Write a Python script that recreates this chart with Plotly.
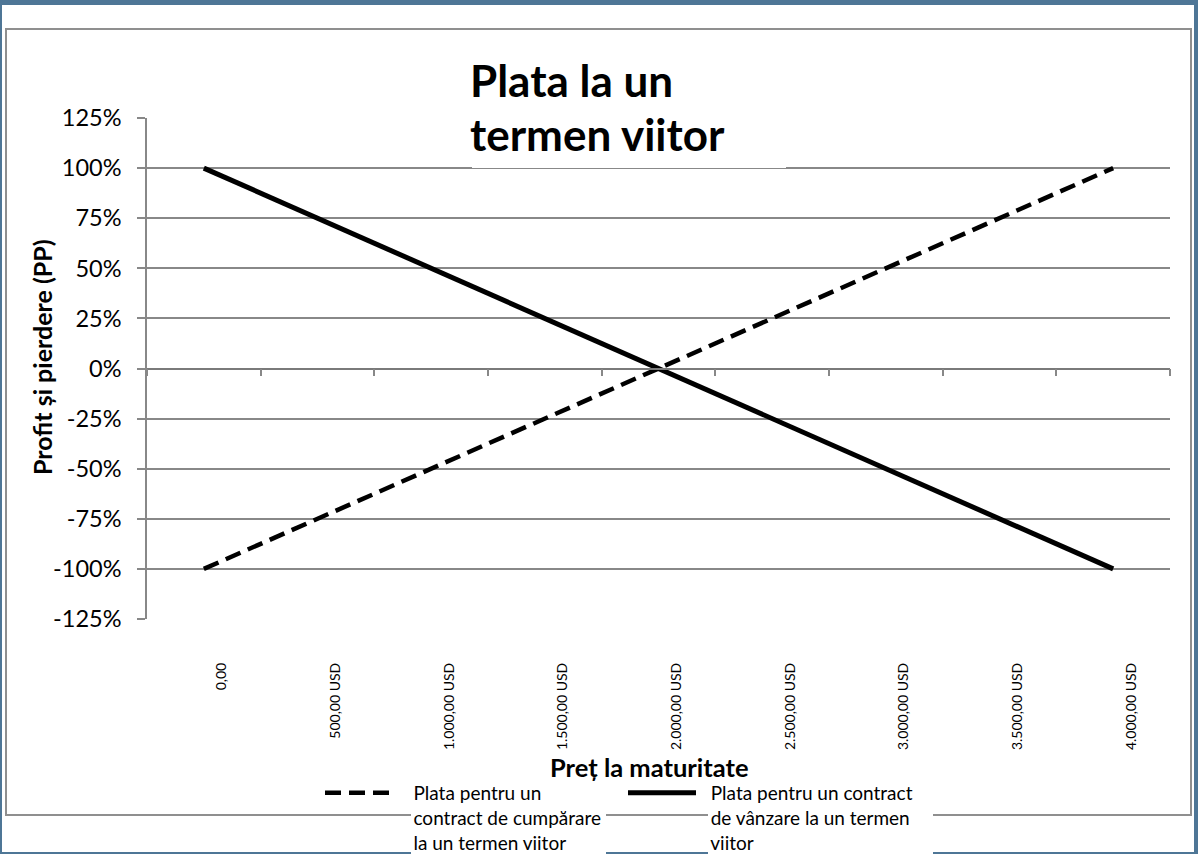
import plotly.graph_objects as go

# ---- data ----
price_labels = ["0,00", "500,00 USD", "1.000,00 USD", "1.500,00 USD", "2.000,00 USD",
                "2.500,00 USD", "3.000,00 USD", "3.500,00 USD", "4.000,00 USD"]
long_payoff = [-1.00, -0.75, -0.50, -0.25, 0.00, 0.25, 0.50, 0.75, 1.00]
short_payoff = [1.00, 0.75, 0.50, 0.25, 0.00, -0.25, -0.50, -0.75, -1.00]
y_tickvals = [-1.25, -1.0, -0.75, -0.5, -0.25, 0.0, 0.25, 0.5, 0.75, 1.0, 1.25]
y_ticktext = ["-125%", "-100%", "-75%", "-50%", "-25%", "0%", "25%", "50%", "75%", "100%", "125%"]

long_lines = ["Plata pentru un", "contract de cumpărare", "la un termen viitor"]
short_lines = ["Plata pentru un contract", "de vânzare la un termen", "viitor"]
title_lines = ["Plata la un", "termen viitor"]
y_title = "Profit și pierdere (PP)"
x_title = "Preț la maturitate"

# ---- layout geometry (pixels) ----
W, H = 1198, 854
L, R, T, B = 147, 1170, 118, 619
PW, PH = R - L, B - T


def X(px):
    return (px - L) / PW


def Y(py):
    return (B - py) / PH


FONT = "Lato, 'Open Sans', sans-serif"
GRID = "#888888"
NB = "\u00a0"

long_name = "<br>".join(NB * 4 + s for s in long_lines)
short_name = "<br>".join(NB * 2 + s for s in short_lines)

fig = go.Figure()
fig.add_trace(go.Scatter(
    x=price_labels, y=long_payoff, mode="lines", name=long_name, legend="legend",
    line=dict(color="black", width=4.5, dash="16px,8px"),
))
fig.add_trace(go.Scatter(
    x=price_labels, y=short_payoff, mode="lines", name=short_name, legend="legend2",
    line=dict(color="black", width=5),
))
# helper trace so the axis on the 0% line is drawn
fig.add_trace(go.Scatter(x=[], y=[], xaxis="x2", showlegend=False, hoverinfo="skip"))

n = len(price_labels)
legend_common = dict(
    orientation="v", xanchor="left", yanchor="top", bgcolor="rgba(0,0,0,0)",
    font=dict(size=19, family=FONT, color="black"), valign="top",
    tracegroupgap=0,
)


def white_box(x0, x1, y0, y1):
    return dict(type="rect", xref="paper", yref="paper", layer="above",
                x0=X(x0), x1=X(x1), y0=Y(y1), y1=Y(y0),
                fillcolor="white", line=dict(width=0))


fig.update_layout(
    width=W, height=H,
    margin=dict(l=L, r=W - R, t=T, b=H - B, pad=0, autoexpand=False),
    paper_bgcolor="#4e7696",
    plot_bgcolor="rgba(0,0,0,0)",
    font=dict(family=FONT, color="black"),
    showlegend=True,
    xaxis=dict(
        type="category", categoryorder="array", categoryarray=price_labels,
        range=[-0.5, n - 0.5], showgrid=False, showline=False, zeroline=False,
        ticks="", tickangle=-90, tickfont=dict(size=14, family=FONT),
        ticklabelstandoff=40, ticklabelshift=18, automargin=False,
    ),
    xaxis2=dict(
        overlaying="x", anchor="free", position=0.5, side="bottom",
        range=[-0.5, n - 0.5], tickmode="array",
        tickvals=[i - 0.5 for i in range(n + 1)],
        ticks="outside", ticklen=7, tickwidth=1.5, tickcolor=GRID,
        showline=True, linecolor="#7a7a7a", linewidth=1.5,
        showticklabels=False, showgrid=False, zeroline=False, automargin=False,
    ),
    yaxis=dict(
        range=[-1.25, 1.25], tickmode="array", tickvals=y_tickvals, ticktext=y_ticktext,
        ticks="outside", ticklen=8, tickwidth=1.5, tickcolor=GRID,
        showgrid=True, gridcolor=GRID, gridwidth=1.5,
        showline=True, linecolor=GRID, linewidth=1.5, zeroline=False,
        tickfont=dict(size=23.5, family=FONT), ticklabelstandoff=11, automargin=False,
    ),
    legend=dict(x=X(320), y=Y(774), itemwidth=64, **legend_common),
    legend2=dict(x=X(623), y=Y(774), itemwidth=68, **legend_common),
    shapes=[
        dict(type="rect", xref="paper", yref="paper", layer="below",
             x0=X(2), x1=X(1194), y0=Y(852), y1=Y(5),
             fillcolor="white", line=dict(width=0)),
        dict(type="rect", xref="paper", yref="paper", layer="below",
             x0=X(6), x1=X(1191), y0=Y(815), y1=Y(29),
             fillcolor="rgba(0,0,0,0)", line=dict(color="#8f8f8f", width=2)),
        white_box(472, 786, 55, 168),
        white_box(411, 606, 784, 854),
        white_box(708, 933, 784, 854),
    ],
    annotations=[
        dict(text="<b>" + title_lines[0] + "</b>", xref="paper", yref="paper",
             x=X(468), y=Y(80), xanchor="left", yanchor="middle",
             showarrow=False, font=dict(size=44, family=FONT, color="black")),
        dict(text="<b>" + title_lines[1] + "</b>", xref="paper", yref="paper",
             x=X(468), y=Y(134), xanchor="left", yanchor="middle",
             showarrow=False, font=dict(size=44, family=FONT, color="black")),
        dict(text="<b>" + y_title + "</b>", xref="paper", yref="paper",
             x=X(42), y=Y(357), xanchor="center", yanchor="middle", textangle=-90,
             showarrow=False, font=dict(size=25, family=FONT, color="black")),
        dict(text="<b>" + x_title + "</b>", xref="paper", yref="paper",
             x=X(649), y=Y(767), xanchor="center", yanchor="middle",
             showarrow=False, font=dict(size=25.5, family=FONT, color="black")),
    ],
)

fig.write_html("out.html", config={"displayModeBar": False},
               post_script="document.body.style.margin='0px';")
